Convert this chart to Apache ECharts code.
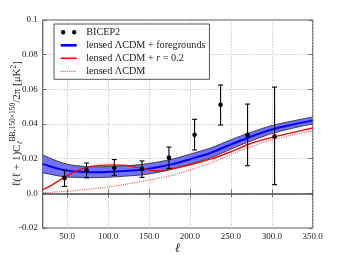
<!DOCTYPE html>
<html><head><meta charset="utf-8">
<script src="https://cdn.jsdelivr.net/npm/echarts@6/dist/echarts.min.js"></script>
<style>html,body{margin:0;padding:0;background:#fff}#c{width:339px;height:255px}</style>
</head><body><div id="c"></div>
<script>
// multipole sampling for model curves
const ell = [20,30,40,50,60,75,90,105,120,140,160,180,200,225,250,275,300,325,350];
// lensed LCDM + foregrounds (central) and its band
const blueCenter = [0.0170,0.0155,0.0141,0.0131,0.0126,0.0122,0.0122,0.0125,0.0129,0.0136,0.0150,0.0170,0.0197,0.0233,0.0282,0.0328,0.0368,0.0396,0.0421];
const bandUpper  = [0.0222,0.0201,0.0182,0.0168,0.0160,0.0154,0.0153,0.0156,0.0159,0.0166,0.0180,0.0199,0.0226,0.0261,0.0309,0.0353,0.0391,0.0417,0.0441];
const bandLower  = [0.0118,0.0109,0.0100,0.0094,0.0092,0.0090,0.0091,0.0094,0.0099,0.0106,0.0120,0.0141,0.0168,0.0205,0.0255,0.0303,0.0345,0.0375,0.0401];
// lensed LCDM + r = 0.2
const redR02 = [0.0021,0.0045,0.0074,0.0102,0.0127,0.0151,0.0161,0.0164,0.0161,0.0146,0.0129,0.0144,0.0165,0.0197,0.0240,0.0289,0.0322,0.0350,0.0377];
// lensed LCDM
const lensed = [0.0003,0.0006,0.0009,0.0012,0.0016,0.0023,0.0031,0.0040,0.0051,0.0068,0.0086,0.0106,0.0136,0.0174,0.0224,0.0270,0.0308,0.0336,0.0360];
// BICEP2 band powers
const bicepEll  = [46.7,73.6,107.5,141.3,174.3,205.6,237.4,270.4,303.4];
const bicepVal  = [0.0089,0.0133,0.0148,0.0141,0.0206,0.0338,0.0511,0.0337,0.0327];
const bicepLow  = [0.0040,0.0090,0.0104,0.0092,0.0144,0.0250,0.0394,0.0159,0.0050];
const bicepHigh = [0.0133,0.0175,0.0195,0.0187,0.0267,0.0427,0.0625,0.0515,0.0613];
// tick labels
const xTicks = [50,100,150,200,250,300,350];
const legendNames = ['BICEP2','lensed ΛCDM + foregrounds','lensed ΛCDM + r = 0.2','lensed ΛCDM'];

const FONT = 'Liberation Serif';
const pair = (xs, ys) => xs.map((x, i) => [x, ys[i]]);

let dotted = '';
for (let x = 0; x < 16; x += 2) dotted += 'M' + x + ',3.4h1v1.2h-1z';
const icons = {
  dots: 'path://M0,0L0,0M16,8L16,8M0.3,4a2.2,2.2 0 1,0 4.4,0a2.2,2.2 0 1,0 -4.4,0M11.3,4a2.2,2.2 0 1,0 4.4,0a2.2,2.2 0 1,0 -4.4,0',
  blue: 'path://M0,0L0,0M16,8L16,8M0,2.7H16V5.3H0Z',
  red: 'path://M0,0L0,0M16,8L16,8M0,3.2H16V4.8H0Z',
  dot: 'path://M0,0L0,0M16,8L16,8' + dotted
};

const chart = echarts.init(document.getElementById('c'), null, {renderer: 'canvas'});
const axisCommonX = {
  type: 'value', min: 20, max: 350,
  axisLine: {show: false},
  axisTick: {show: true, inside: true, length: 4, customValues: xTicks, lineStyle: {color: '#555', width: 0.8}},
};
chart.setOption({
  animation: false,
  grid: {left: 42.7, right: 26.3, top: 20, bottom: 27, containLabel: false, outerBoundsMode: 'none',
    show: true, borderColor: '#555', borderWidth: 1.2, backgroundColor: 'transparent'},
  legend: {
    orient: 'vertical', left: 54, top: 24,
    padding: [2.3, 4, 2, 6.7],
    itemWidth: 16, itemHeight: 8, itemGap: 1,
    backgroundColor: '#fff', borderColor: '#555', borderWidth: 1, borderRadius: 0,
    selectedMode: false,
    textStyle: {fontFamily: FONT, fontSize: 10.2, color: '#222', lineHeight: 12, padding: [0,0,0,4.5],
      rich: {n: {fontFamily: FONT, fontSize: 10.2, color: '#222'}, i: {fontFamily: FONT, fontSize: 10.2, fontStyle: 'italic', color: '#222'}}},
    formatter: name => name === 'lensed ΛCDM + r = 0.2' ? '{n|lensed ΛCDM + }{i|r}{n| = 0.2}' : name,
    data: [
      {name: legendNames[0], icon: icons.dots, itemStyle: {color: '#000', borderWidth: 0}},
      {name: legendNames[1], icon: icons.blue, itemStyle: {color: '#0000ff', borderWidth: 0}},
      {name: legendNames[2], icon: icons.red, itemStyle: {color: '#ff0000', borderWidth: 0}},
      {name: legendNames[3], icon: icons.dot, itemStyle: {color: '#ff4040', borderWidth: 0}}
    ]
  },
  xAxis: [
    Object.assign({}, axisCommonX, {
      position: 'bottom',
      name: 'ℓ', nameLocation: 'middle', nameGap: 14, nameMoveOverlap: false,
      nameTextStyle: {fontFamily: FONT, fontSize: 13, fontStyle: 'italic', color: '#222'},
      axisLabel: {show: true, customValues: xTicks, formatter: v => v.toFixed(1), fontFamily: FONT, fontSize: 9, color: '#222', margin: 4},
      splitLine: {show: true, lineStyle: {color: '#bdbdbd', width: 0.8, type: [1.5, 1.5]}}
    }),
    Object.assign({}, axisCommonX, {
      position: 'top', axisLabel: {show: false}, splitLine: {show: false}
    })
  ],
  yAxis: [
    {
      type: 'value', min: -0.02, max: 0.1, interval: 0.02, position: 'left',
      axisLine: {show: false},
      axisTick: {show: true, inside: true, length: 4, lineStyle: {color: '#555', width: 0.8}},
      axisLabel: {fontFamily: FONT, fontSize: 9, color: '#222', margin: 5,
        formatter: v => Math.abs(v) < 1e-9 ? '0.0' : (Math.abs(v - 0.1) < 1e-9 ? '0.1' : v.toFixed(2))},
      splitLine: {show: true, lineStyle: {color: '#bdbdbd', width: 0.8, type: [1.5, 1.5]}},
      name: '{a|ℓ(ℓ + 1)C}{sub|ℓ}{sup|BB,150×150}{a|/2π [μK}{s2|2}{a|]}',
      nameLocation: 'middle', nameRotate: 90, nameGap: 17, nameMoveOverlap: false,
      nameTextStyle: {
        rich: {
          a: {fontFamily: FONT, fontSize: 11, color: '#222'},
          sub: {fontFamily: FONT, fontSize: 7.5, fontStyle: 'italic', color: '#222', padding: [6, 0, 0, 0]},
          sup: {fontFamily: FONT, fontSize: 7.5, color: '#222', padding: [0, 0, 9, 0]},
          s2: {fontFamily: FONT, fontSize: 7.5, color: '#222', padding: [0, 0, 7, 0]}
        }
      }
    },
    {
      type: 'value', min: -0.02, max: 0.1, interval: 0.02, position: 'right',
      axisLine: {show: false}, axisLabel: {show: false}, splitLine: {show: false},
      axisTick: {show: true, inside: true, length: 4, lineStyle: {color: '#555', width: 0.8}}
    }
  ],
  series: [
    {
      name: 'band', type: 'custom', z: 1, clip: true, silent: true,
      data: ell.map((l, i) => [l, bandLower[i], bandUpper[i]]),
      encode: {x: 0, y: [1, 2]},
      renderItem: (params, api) => {
        if (params.dataIndex !== 0) return null;
        const pts = [];
        for (let i = 0; i < ell.length; i++) pts.push(api.coord([ell[i], bandUpper[i]]));
        for (let i = ell.length - 1; i >= 0; i--) pts.push(api.coord([ell[i], bandLower[i]]));
        return {type: 'polygon', shape: {points: pts}, style: {fill: '#7272f6', stroke: null}};
      }
    },
    {name: 'bandUpperEdge', type: 'line', z: 2, smooth: 0.3, showSymbol: false, silent: true,
      data: pair(ell, bandUpper), lineStyle: {color: '#333', width: 0.9}},
    {name: 'bandLowerEdge', type: 'line', z: 2, smooth: 0.3, showSymbol: false, silent: true,
      data: pair(ell, bandLower), lineStyle: {color: '#333', width: 0.9}},
    {name: legendNames[1], type: 'line', z: 3, smooth: 0.3, showSymbol: false, silent: true,
      color: '#0000ff', data: pair(ell, blueCenter), lineStyle: {color: '#0000ff', width: 2}},
    {name: legendNames[3], type: 'line', z: 3, smooth: 0.3, showSymbol: false, silent: true,
      color: '#ff4040', data: pair(ell, lensed), lineStyle: {color: '#ff3030', width: 1, type: [1, 1.3]},
      markLine: {silent: true, symbol: 'none', label: {show: false}, animation: false,
        lineStyle: {color: '#4d4d4d', width: 1.6, type: 'solid'}, data: [{yAxis: 0}]}},
    {name: legendNames[2], type: 'line', z: 4, smooth: 0.3, showSymbol: false, silent: true,
      color: '#ff0000', data: pair(ell, redR02), lineStyle: {color: '#ff0000', width: 1.4}},
    {
      name: legendNames[0], type: 'custom', z: 10, color: '#000', silent: true,
      data: bicepEll.map((l, i) => [l, bicepVal[i], bicepLow[i], bicepHigh[i]]),
      encode: {x: 0, y: [1, 2, 3]},
      renderItem: (params, api) => {
        const x = api.value(0);
        const pc = api.coord([x, api.value(1)]);
        const pl = api.coord([x, api.value(2)]);
        const ph = api.coord([x, api.value(3)]);
        const cap = 2.5;
        const st = {stroke: '#000', lineWidth: 1.1};
        return {type: 'group', children: [
          {type: 'line', shape: {x1: pl[0], y1: pl[1], x2: ph[0], y2: ph[1]}, style: st},
          {type: 'line', shape: {x1: pl[0] - cap, y1: pl[1], x2: pl[0] + cap, y2: pl[1]}, style: st},
          {type: 'line', shape: {x1: ph[0] - cap, y1: ph[1], x2: ph[0] + cap, y2: ph[1]}, style: st},
          {type: 'circle', shape: {cx: pc[0], cy: pc[1], r: 2.3}, style: {fill: '#000'}}
        ]};
      }
    }
  ]
});
</script>
</body></html>
